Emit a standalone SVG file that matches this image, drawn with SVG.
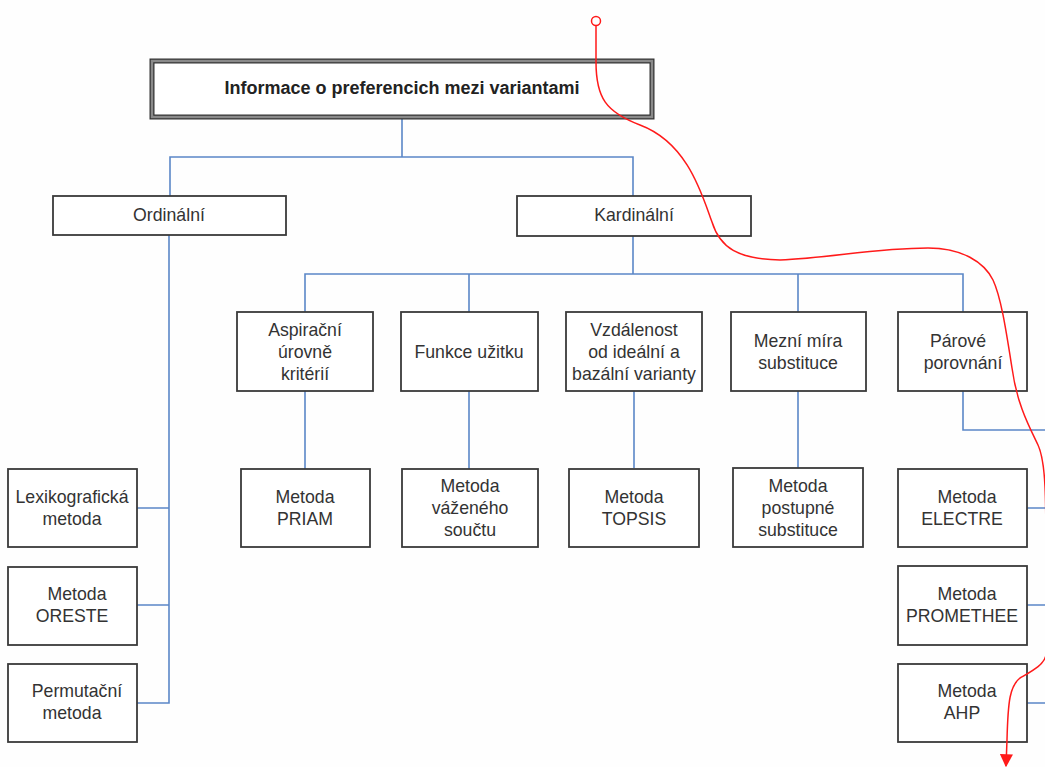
<svg xmlns="http://www.w3.org/2000/svg" width="1045" height="767" viewBox="0 0 1045 767">
<defs>
<style>
.box{fill:#ffffff;stroke:#3a3a3a;stroke-width:1.8}
.t{font-family:"Liberation Sans",Arial,sans-serif;font-size:17.7px;fill:#333333;text-anchor:middle}
.tb{font-family:"Liberation Sans",Arial,sans-serif;font-size:18px;font-weight:bold;fill:#222222;text-anchor:middle}
.c{fill:none;stroke:#5b87c7;stroke-width:1.6}
.red{fill:none;stroke:#ff1a1a;stroke-width:1.5}
</style>
<marker id="ah" viewBox="0 0 10 10" refX="9" refY="5" markerWidth="14" markerHeight="13" markerUnits="userSpaceOnUse" orient="auto">
<path d="M0,0 L10,5 L0,10 z" fill="#ff1a1a"/>
</marker>
</defs>
<rect width="1045" height="767" fill="#fefefe"/>
<g id="connectors">
<path class="c" d="M402,119 V157 M170,196 V157 H633 V196"/>
<path class="c" d="M633,236 V274 M305,312 V274 H963 V312 M469,274 V312 M798,274 V312"/>
<path class="c" d="M305,391 V469 M469,391 V469 M634,391 V468 M798,391 V468"/>
<path class="c" d="M169,235 V703 H137 M137,508 H169 M137,605 H169"/>
<path class="c" d="M963,391 V430 H1048 M1027,508 H1048 M1027,605 H1048 M1027,703 H1048"/>
</g>
<g id="n-root">
<rect x="152" y="61" width="500" height="56" fill="#ffffff" stroke="#333" stroke-width="5"/>
<rect x="152" y="61" width="500" height="56" fill="none" stroke="#8a8a8a" stroke-width="2.5"/>
<text class="tb" x="402" y="94">Informace o preferencich mezi variantami</text>
</g>
<g id="n-ordinalni">
<rect class="box" x="53" y="196" width="233" height="39"/>
<text class="t" x="169" y="221">Ordinální</text>
</g>
<g id="n-kardinalni">
<rect class="box" x="517" y="196" width="234" height="40"/>
<text class="t" x="634" y="221">Kardinální</text>
</g>
<g id="n-aspiracni">
<rect class="box" x="237" y="312" width="136" height="79"/>
<text class="t" x="305" y="336">Aspirační</text>
<text class="t" x="305" y="358">úrovně</text>
<text class="t" x="305" y="380">kritérií</text>
</g>
<g id="n-funkce">
<rect class="box" x="401" y="312" width="137" height="79"/>
<text class="t" x="469" y="358">Funkce užitku</text>
</g>
<g id="n-vzdalenost">
<rect class="box" x="566" y="312" width="136" height="79"/>
<text class="t" x="634" y="336">Vzdálenost</text>
<text class="t" x="634" y="358">od ideální a</text>
<text class="t" x="634" y="380">bazální varianty</text>
</g>
<g id="n-mezni">
<rect class="box" x="731" y="312" width="135" height="79"/>
<text class="t" x="798" y="347">Mezní míra</text>
<text class="t" x="798" y="369">substituce</text>
</g>
<g id="n-parove">
<rect class="box" x="898" y="312" width="129" height="79"/>
<text class="t" x="958" y="347">Párové</text>
<text class="t" x="963" y="369">porovnání</text>
</g>
<g id="n-priam">
<rect class="box" x="241" y="469" width="129" height="78"/>
<text class="t" x="305" y="503">Metoda</text>
<text class="t" x="305" y="525">PRIAM</text>
</g>
<g id="n-vazeny">
<rect class="box" x="402" y="469" width="136" height="78"/>
<text class="t" x="470" y="492">Metoda</text>
<text class="t" x="470" y="514">váženého</text>
<text class="t" x="470" y="536">součtu</text>
</g>
<g id="n-topsis">
<rect class="box" x="569" y="469" width="130" height="78"/>
<text class="t" x="634" y="503">Metoda</text>
<text class="t" x="634" y="525">TOPSIS</text>
</g>
<g id="n-postupne">
<rect class="box" x="733" y="468" width="130" height="79"/>
<text class="t" x="798" y="492">Metoda</text>
<text class="t" x="798" y="514">postupné</text>
<text class="t" x="798" y="536">substituce</text>
</g>
<g id="n-electre">
<rect class="box" x="898" y="469" width="129" height="78"/>
<text class="t" x="967" y="503">Metoda</text>
<text class="t" x="962" y="525">ELECTRE</text>
</g>
<g id="n-promethee">
<rect class="box" x="898" y="566" width="129" height="79"/>
<text class="t" x="967" y="600">Metoda</text>
<text class="t" x="962" y="622">PROMETHEE</text>
</g>
<g id="n-ahp">
<rect class="box" x="898" y="664" width="129" height="78"/>
<text class="t" x="967" y="697">Metoda</text>
<text class="t" x="962" y="719">AHP</text>
</g>
<g id="n-lexikograficka">
<rect class="box" x="8" y="469" width="129" height="78"/>
<text class="t" x="72" y="503">Lexikografická</text>
<text class="t" x="72" y="525">metoda</text>
</g>
<g id="n-oreste">
<rect class="box" x="8" y="567" width="129" height="78"/>
<text class="t" x="77" y="600">Metoda</text>
<text class="t" x="72" y="622">ORESTE</text>
</g>
<g id="n-permutacni">
<rect class="box" x="8" y="664" width="129" height="78"/>
<text class="t" x="77" y="697">Permutační</text>
<text class="t" x="72" y="719">metoda</text>
</g>
<g id="red-annotation">
<circle cx="596" cy="21" r="4.5" fill="#ffffff" stroke="#ff1a1a" stroke-width="1.5"/>
<path class="red" marker-end="url(#ah)" d="M596,25.5 L596,62 C596,98 606,112 640,125 C688,143 702,195 712,222 C720,248 738,259 780,260 C830,258 875,248 928,248 C962,248 984,262 993,280 C1001,297 1006,330 1012,368 C1017,405 1030,428 1038,445 C1046,462 1046,500 1046,560 L1046,655 C1044,665 1032,671 1020,678 C1010,686 1008,700 1007,740 L1006,766"/>
</g>
</svg>
